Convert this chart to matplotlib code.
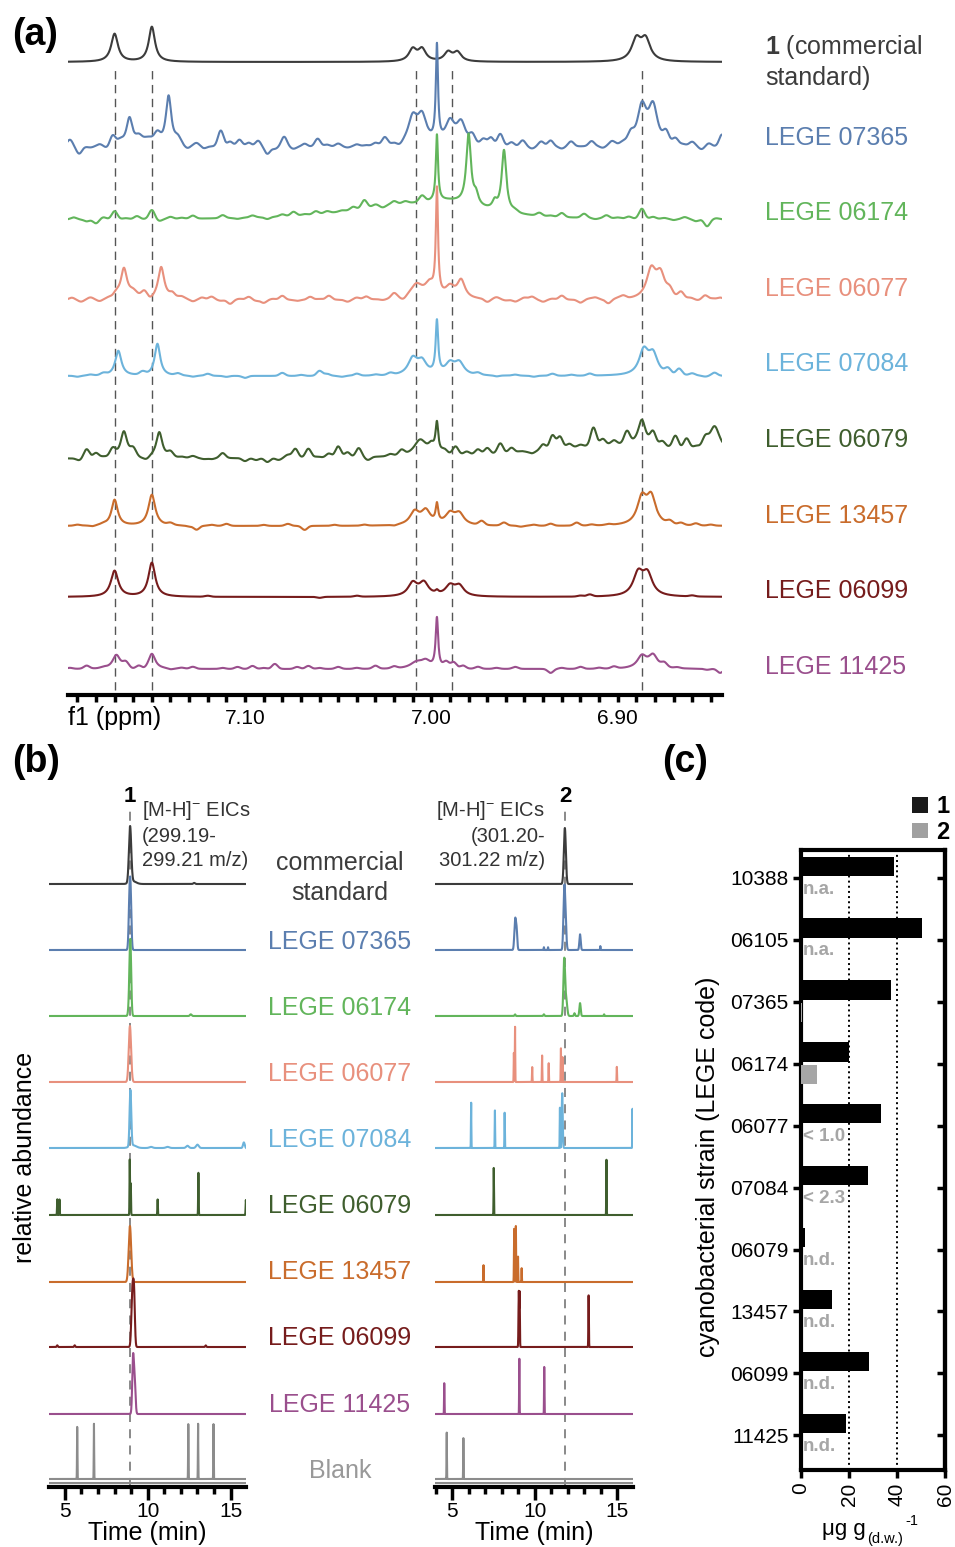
import matplotlib
matplotlib.use('Agg')
import matplotlib.pyplot as plt
from matplotlib.patches import Patch
from matplotlib.ticker import MultipleLocator
import numpy as np

plt.rcParams['font.family'] = ['Liberation Sans', 'DejaVu Sans']
plt.rcParams['mathtext.fontset'] = 'custom'
plt.rcParams['mathtext.rm'] = 'Liberation Sans'
plt.rcParams['mathtext.bf'] = 'Liberation Sans:bold'

W, H = 955, 1547

# ---------------- (a) 1H NMR, peaks as (ppm, height px, hwhm) and wiggles as (ppm, height px)
PEAKS_STD = [(7.170, 28, 0.0022), (7.150, 35, 0.0020), (7.010, 12, 0.0025), (7.005, 12, 0.0025),
             (6.991, 9, 0.0025), (6.986, 9, 0.0025), (6.890, 21, 0.003), (6.885, 21, 0.003)]
WIG_STD = []

PEAKS_07365 = [(7.162, 28, 0.002), (7.152, 8, 0.005), (7.141, 50, 0.0018), (7.010, 26, 0.003),
               (7.005, 27, 0.003), (6.997, 95, 0.0007), (6.990, 22, 0.003), (6.984, 22, 0.003),
               (6.887, 38, 0.003), (6.881, 38, 0.003)]
WIG_07365 = [(7.194, 7), (7.189, -7), (7.183, -1), (7.178, 2), (7.174, -2), (7.171, 10), (7.167, 4),
             (7.157, 5), (7.147, 8), (7.136, 6), (7.131, -3), (7.126, 3), (7.122, -2), (7.113, 16),
             (7.108, 5), (7.103, 7), (7.098, 4), (7.093, 6), (7.088, -7), (7.084, -2), (7.079, 10),
             (7.074, -2), (7.068, 3), (7.061, 8), (7.056, 2), (7.050, 3), (7.045, -1), (7.040, 2),
             (7.035, 1), (7.030, 3), (7.025, 8), (7.020, 1), (7.017, -3), (6.978, 8), (6.972, 6),
             (6.968, 8), (6.963, 12), (6.957, 4), (6.951, 6), (6.946, -2), (6.941, 5), (6.936, 6),
             (6.930, -2), (6.925, 5), (6.919, 0), (6.914, 5), (6.908, -2), (6.903, 4), (6.897, 2),
             (6.893, 8), (6.874, 10), (6.869, 6), (6.865, 1), (6.860, 4), (6.855, -3), (6.851, 3),
             (6.847, 0), (6.844, 12)]

PEAKS_06174 = [(7.020, 12, 0.035), (6.990, 12, 0.02), (6.997, 66, 0.0007), (6.980, 70, 0.0015),
               (6.976, 10, 0.0015), (6.966, 8, 0.0015), (6.961, 62, 0.0015)]
WIG_06174 = [(7.192, 2), (7.185, -2), (7.180, -4), (7.176, 2), (7.170, 8), (7.164, 1), (7.158, 3),
             (7.150, 9), (7.146, -2), (7.140, 2), (7.134, 1), (7.128, 3), (7.120, 0), (7.112, 3),
             (7.104, -1), (7.096, 2), (7.088, -2), (7.080, 2), (7.074, 4), (7.068, 1), (7.062, 3),
             (7.056, 2), (7.048, 1), (7.042, 3), (7.036, 8), (7.030, 2), (7.026, -2), (7.020, 3),
             (7.014, 2), (7.005, 6), (6.955, 2), (6.948, 0), (6.942, 3), (6.936, 1), (6.930, 4),
             (6.924, 0), (6.918, 4), (6.912, -1), (6.906, 3), (6.900, 1), (6.894, 2), (6.887, 10),
             (6.881, 2), (6.875, 1), (6.870, -1), (6.864, 2), (6.858, -2), (6.852, -7), (6.847, 1)]

PEAKS_06077 = [(7.165, 30, 0.002), (7.160, 7, 0.003), (7.145, 32, 0.002), (7.139, 5, 0.002),
               (7.008, 14, 0.004), (7.001, 13, 0.003), (6.997, 105, 0.0007), (6.990, 11, 0.003),
               (6.984, 18, 0.0025), (6.882, 28, 0.003), (6.877, 24, 0.003)]
WIG_06077 = [(7.193, 2), (7.188, -2), (7.183, 2), (7.178, -2), (7.173, 1), (7.169, 4), (7.154, 6),
             (7.151, -2), (7.134, 2), (7.128, -2), (7.123, 2), (7.118, 3), (7.113, -1), (7.108, -4),
             (7.103, 1), (7.098, 3), (7.094, -1), (7.090, -3), (7.085, 1), (7.080, 4), (7.076, 0),
             (7.072, -1), (7.065, 3), (7.060, 1), (7.055, 4), (7.050, 0), (7.045, -2), (7.040, 2),
             (7.035, 3), (7.030, 0), (7.026, -1), (7.020, 5), (7.015, -3), (6.970, -3), (6.965, 2),
             (6.960, -1), (6.955, -2), (6.950, 2), (6.946, 3), (6.940, -2), (6.935, 1), (6.930, 4),
             (6.925, 0), (6.920, -3), (6.915, 1), (6.912, 2), (6.905, -4), (6.900, 1), (6.897, 3),
             (6.872, 6), (6.866, 6), (6.861, 1), (6.857, -1), (6.853, 4), (6.849, 1), (6.845, 2)]

PEAKS_07084 = [(7.168, 25, 0.002), (7.147, 32, 0.0018), (7.010, 16, 0.003), (7.005, 13, 0.003),
               (6.997, 52, 0.0008), (6.990, 11, 0.003), (6.985, 12, 0.003), (6.886, 24, 0.003),
               (6.881, 20, 0.003)]
WIG_07084 = [(7.190, -1), (7.183, 1), (7.176, 2), (7.155, 3), (7.136, 2), (7.128, -1), (7.120, 2),
             (7.110, -1), (7.100, -2), (7.090, 0), (7.080, 3), (7.070, 1), (7.060, 5), (7.056, 2),
             (7.048, -1), (7.040, 2), (7.030, 1), (7.022, 2), (6.975, 2), (6.965, -1), (6.955, 1),
             (6.945, -1), (6.935, 2), (6.925, 1), (6.915, 2), (6.905, 0), (6.873, 5), (6.867, 6),
             (6.860, 2), (6.853, -1), (6.848, 3)]

PEAKS_06079 = [(6.900, 14, 0.05), (7.165, 27, 0.0022), (7.146, 26, 0.002), (7.006, 16, 0.004),
               (7.000, 8, 0.002), (6.997, 30, 0.0009), (6.887, 26, 0.0025), (6.848, 26, 0.0035)]
WIG_06079 = [(7.194, 0), (7.189, -2), (7.185, 9), (7.180, 5), (7.176, 1), (7.171, 8), (7.160, 7),
             (7.156, -1), (7.153, -3), (7.140, 5), (7.134, 1), (7.128, 2), (7.122, -1), (7.118, -1),
             (7.112, 5), (7.106, 0), (7.100, -3), (7.094, -2), (7.088, -4), (7.082, -2), (7.077, 3),
             (7.073, 9), (7.066, 9), (7.061, 1), (7.055, 4), (7.050, 11), (7.045, 5), (7.039, 9),
             (7.034, -3), (7.028, 0), (7.022, 2), (7.016, 5), (6.993, 4), (6.987, 8), (6.981, 3),
             (6.975, 5), (6.970, 6), (6.963, 10), (6.957, 5), (6.952, 1), (6.946, -2), (6.940, 6),
             (6.935, 14), (6.931, 12), (6.926, 4), (6.920, 2), (6.913, 18), (6.908, 6), (6.902, 4),
             (6.895, 12), (6.881, 12), (6.876, 5), (6.869, 12), (6.863, 10), (6.858, 2), (6.853, 8)]

PEAKS_13457 = [(7.170, 26, 0.002), (7.150, 31, 0.0022), (7.009, 13, 0.003), (7.003, 14, 0.003),
               (6.997, 18, 0.0008), (6.990, 11, 0.003), (6.985, 11, 0.003), (6.887, 26, 0.003),
               (6.882, 27, 0.003)]
WIG_13457 = [(7.190, 1), (7.182, -1), (7.176, 1), (7.140, 2), (7.130, -1), (7.126, -4), (7.118, 1),
             (7.110, 2), (7.100, 0), (7.090, 1), (7.082, 0), (7.077, 2), (7.068, -4), (7.060, 0),
             (7.052, 1), (7.044, 0), (7.036, 1), (7.028, 0), (7.020, -1), (6.973, 4), (6.961, 3),
             (6.952, -1), (6.945, 1), (6.936, 2), (6.929, 0), (6.922, 3), (6.914, 1), (6.905, 1),
             (6.872, 3), (6.866, 2), (6.858, 2), (6.850, 1), (6.846, 0)]

PEAKS_06099 = [(7.170, 26, 0.0024), (7.150, 34, 0.0022), (7.010, 13, 0.003), (7.004, 13, 0.003),
               (6.997, 3, 0.001), (6.990, 10, 0.003), (6.985, 10, 0.003), (6.889, 22, 0.0032),
               (6.884, 21, 0.0032)]
WIG_06099 = [(7.120, 1), (7.060, -1), (7.040, 1), (6.920, 1), (6.915, 2), (6.860, 1)]

PEAKS_11425 = [(7.169, 14, 0.0025), (7.150, 15, 0.0022), (7.008, 6, 0.004), (7.003, 7, 0.003),
               (6.997, 50, 0.0008), (6.887, 12, 0.003), (6.881, 13, 0.003)]
WIG_11425 = [(7.194, 1), (7.185, 3), (7.176, 1), (7.164, 5), (7.160, -1), (7.157, 2), (7.154, -2),
             (7.140, -1), (7.134, 1), (7.128, 2), (7.120, 0), (7.112, 1), (7.104, 2), (7.096, 3),
             (7.090, 1), (7.084, 5), (7.079, 0), (7.072, 2), (7.066, 3), (7.060, 1), (7.050, 2),
             (7.040, 1), (7.030, 3), (7.020, 2), (6.992, 6), (6.988, 6), (6.983, 3), (6.975, 2),
             (6.965, 1), (6.955, 2), (6.945, 0), (6.936, -4), (6.930, 1), (6.920, 2), (6.910, 1),
             (6.902, 2), (6.875, 4), (6.868, 1), (6.860, 0), (6.852, -1), (6.845, -4)]

REF_SHIFTS = [7.170, 7.150, 7.008, 6.989, 6.887]

NMR_NAMES = ['LEGE 07365', 'LEGE 06174', 'LEGE 06077', 'LEGE 07084',
             'LEGE 06079', 'LEGE 13457', 'LEGE 06099', 'LEGE 11425']

COLORS = ['#5b7eaf', '#62b55b', '#e8907d', '#6cb3db', '#3f5e2e', '#c96c2c', '#761c1c', '#9a4f8d']
STD_COLOR = '#3c3c3c'
BLANK_COLOR = '#8c8c8c'

# ---------------- (b) EICs, peaks as (time min, relative height, sigma min)
EIC1_STD = [(8.94, 1.0, 0.07), (9.10, 0.05, 0.20), (12.80, 0.02, 0.05)]
EIC1_07365 = [(8.90, 0.75, 0.05), (8.97, 0.92, 0.05)]
EIC1_06174 = [(8.96, 1.0, 0.05), (8.92, 0.45, 0.06), (12.60, 0.03, 0.05)]
EIC1_06077 = [(8.93, 1.0, 0.07)]
EIC1_07084 = [(8.96, 1.0, 0.05), (9.10, 0.05, 0.20), (12.40, 0.04, 0.08), (13.00, 0.06, 0.08),
              (15.80, 0.10, 0.05), (10.20, 0.02, 0.10), (11.20, 0.02, 0.10)]
EIC1_06079 = [(4.55, 0.28, 0.015), (4.68, 0.28, 0.015), (8.92, 1.0, 0.015), (8.98, 0.57, 0.015),
              (10.60, 0.28, 0.015), (13.06, 0.76, 0.015), (15.92, 0.27, 0.015)]
EIC1_13457 = [(8.93, 1.0, 0.075)]
EIC1_06099 = [(9.08, 1.0, 0.06), (9.18, 0.85, 0.05), (4.55, 0.03, 0.03), (5.60, 0.03, 0.03),
              (13.50, 0.03, 0.03)]
EIC1_11425 = [(9.12, 1.0, 0.05), (9.22, 0.55, 0.05)]
EIC1_BLANK = [(5.75, 0.93, 0.012), (6.76, 1.0, 0.012), (12.45, 0.98, 0.012), (13.04, 1.0, 0.012),
              (13.97, 0.98, 0.012)]

EIC2_STD = [(11.82, 1.0, 0.06)]
EIC2_07365 = [(8.81, 0.55, 0.05), (8.90, 0.30, 0.04), (10.55, 0.05, 0.015), (10.80, 0.05, 0.015),
              (11.78, 1.0, 0.05), (11.86, 0.50, 0.05), (12.74, 0.28, 0.04), (13.97, 0.07, 0.015)]
EIC2_06174 = [(11.78, 1.0, 0.05), (11.90, 0.30, 0.06), (12.74, 0.23, 0.04), (8.80, 0.03, 0.03),
              (10.55, 0.03, 0.03), (12.40, 0.05, 0.03), (14.20, 0.03, 0.02)]
EIC2_06077 = [(8.73, 0.52, 0.012), (8.80, 1.0, 0.012), (9.84, 0.27, 0.012), (10.44, 0.48, 0.012),
              (10.84, 0.34, 0.012), (11.58, 0.61, 0.012), (11.68, 0.45, 0.012), (14.97, 0.27, 0.012)]
EIC2_07084 = [(6.14, 0.82, 0.012), (7.58, 0.68, 0.012), (8.17, 0.63, 0.012), (11.52, 0.73, 0.012),
              (11.66, 0.98, 0.03), (15.92, 0.71, 0.012)]
EIC2_06079 = [(7.51, 0.84, 0.012), (14.34, 1.0, 0.012)]
EIC2_13457 = [(6.89, 0.30, 0.012), (8.75, 0.95, 0.015), (8.85, 1.0, 0.015), (8.98, 0.46, 0.012),
              (9.20, 0.25, 0.012)]
EIC2_06099 = [(9.03, 1.0, 0.02), (9.08, 0.95, 0.015), (13.26, 0.93, 0.015)]
EIC2_11425 = [(4.51, 0.55, 0.012), (9.06, 1.0, 0.012), (10.57, 0.84, 0.012)]
EIC2_BLANK = [(4.66, 0.84, 0.012), (5.67, 0.73, 0.012)]

RT_1 = 8.94
RT_2 = 11.82

# ---------------- (c) quantification
STRAINS = ['10388', '06105', '07365', '06174', '06077', '07084', '06079', '13457', '06099', '11425']
AMOUNT_1 = [38.8, 50.3, 37.5, 19.8, 33.4, 27.8, 1.8, 13.0, 28.4, 18.8]
AMOUNT_2 = [0, 0, 0.4, 6.6, 0, 0, 0, 0, 0, 0]
NOTES_2 = ['n.a.', 'n.a.', '', '', '< 1.0', '< 2.3', 'n.d.', 'n.d.', 'n.d.', 'n.d.']


def px_axes(fig, left, top, right, bottom):
    return fig.add_axes([left / W, 1 - bottom / H, (right - left) / W, (bottom - top) / H])


def fy(y):
    return 1 - y / H


def lorentz(x, peaks):
    y = np.zeros_like(x)
    for p, h, w in peaks:
        y += h / (1 + ((x - p) / w) ** 2)
    return y


def gauss(x, peaks, sigma=None):
    y = np.zeros_like(x)
    for pk in peaks:
        p, h = pk[0], pk[1]
        s = sigma if sigma is not None else pk[2]
        y += h * np.exp(-0.5 * ((x - p) / s) ** 2)
    return y


fig = plt.figure(figsize=(W / 100, H / 100), dpi=100)

# ================= panel (a)
ax = px_axes(fig, 68, 20, 722, 695)
ax.set_xlim(7.195, 6.844)
ax.set_ylim(0, 675)
ppm = np.linspace(7.195, 6.844, 4000)

nmr_traces = [(PEAKS_STD, WIG_STD, STD_COLOR, 633),
              (PEAKS_07365, WIG_07365, COLORS[0], 548),
              (PEAKS_06174, WIG_06174, COLORS[1], 475),
              (PEAKS_06077, WIG_06077, COLORS[2], 395),
              (PEAKS_07084, WIG_07084, COLORS[3], 319),
              (PEAKS_06079, WIG_06079, COLORS[4], 236),
              (PEAKS_13457, WIG_13457, COLORS[5], 169),
              (PEAKS_06099, WIG_06099, COLORS[6], 98),
              (PEAKS_11425, WIG_11425, COLORS[7], 26)]

ax.vlines(REF_SHIFTS, 5, 630, colors='#555555', linestyles=(0, (6, 4)), lw=1.0, zorder=1)
for peaks, wig, color, base in nmr_traces:
    y = base + lorentz(ppm, peaks) + gauss(ppm, wig, sigma=0.0015)
    ax.plot(ppm, y, color=color, lw=1.5, zorder=2)

for side in ['left', 'right', 'top']:
    ax.spines[side].set_visible(False)
ax.spines['bottom'].set_linewidth(3)
ax.set_yticks([])
ax.set_xticks([7.10, 7.00, 6.90], ['7.10', '7.00', '6.90'])
ax.xaxis.set_minor_locator(MultipleLocator(0.01))
ax.tick_params(axis='x', which='both', direction='out', length=5, width=2.5, labelsize=15, pad=5)
fig.text(68 / W, fy(718), 'f1 (ppm)', fontsize=18, ha='left', va='center')

fig.text(765 / W, fy(47), r'$\mathbf{1}$ (commercial', fontsize=18, color=STD_COLOR, va='center')
fig.text(765 / W, fy(78), 'standard)', fontsize=18, color=STD_COLOR, va='center')
label_y = [138, 213, 289, 364, 440, 516, 591, 667]
for name, color, y in zip(NMR_NAMES, COLORS, label_y):
    fig.text(765 / W, fy(y), name, fontsize=18, color=color, va='center')

# ================= panel (b)
eic_sets = [
    (EIC1_STD, EIC2_STD, STD_COLOR, 603),
    (EIC1_07365, EIC2_07365, COLORS[0], 537),
    (EIC1_06174, EIC2_06174, COLORS[1], 471),
    (EIC1_06077, EIC2_06077, COLORS[2], 405),
    (EIC1_07084, EIC2_07084, COLORS[3], 339),
    (EIC1_06079, EIC2_06079, COLORS[4], 272),
    (EIC1_13457, EIC2_13457, COLORS[5], 205),
    (EIC1_06099, EIC2_06099, COLORS[6], 140),
    (EIC1_11425, EIC2_11425, COLORS[7], 73),
    (EIC1_BLANK, EIC2_BLANK, BLANK_COLOR, 8),
]
PEAK_PX = 56

ax_b1 = px_axes(fig, 49, 790, 246, 1487)
ax_b2 = px_axes(fig, 435, 790, 633, 1487)
for col, (axb, lim, rt) in enumerate([(ax_b1, (4.05, 15.93), RT_1), (ax_b2, (3.95, 15.95), RT_2)]):
    axb.set_xlim(*lim)
    axb.set_ylim(0, 697)
    t = np.arange(lim[0], lim[1], 0.004)
    axb.vlines([rt], 0, 680, colors='#808080', linestyles=(0, (5, 4)), lw=1.3, zorder=1)
    for s in eic_sets:
        peaks, color, base = s[col], s[2], s[3]
        axb.plot(t, base + PEAK_PX * gauss(t, peaks), color=color, lw=1.5, zorder=2)
    axb.axhline(4, color=BLANK_COLOR, lw=1.5, zorder=2)
    for side in ['left', 'right', 'top']:
        axb.spines[side].set_visible(False)
    axb.spines['bottom'].set_linewidth(3)
    axb.set_yticks([])
    axb.xaxis.set_major_locator(MultipleLocator(5))
    axb.xaxis.set_minor_locator(MultipleLocator(1))
    axb.tick_params(axis='x', which='major', length=9, width=2.5, labelsize=15, pad=2)
    axb.tick_params(axis='x', which='minor', length=5, width=2.5)
    axb.set_xlabel('Time (min)', fontsize=18, labelpad=0)

fig.text(130 / W, fy(797), '1', fontsize=16, fontweight='bold', ha='center', va='center')
fig.text(565 / W, fy(797), '2', fontsize=16, fontweight='bold', ha='center', va='center')
for y, line in zip([811, 836, 861], [r'[M-H]$^{\mathregular{-}}$ EICs', '(299.19-', '299.21 m/z)']):
    fig.text(142 / W, fy(y), line, fontsize=14.5, color='#333333', ha='left', va='center')
for y, line in zip([811, 836, 861], [r'[M-H]$^{\mathregular{-}}$ EICs', '(301.20-', '301.22 m/z)']):
    fig.text(545 / W, fy(y), line, fontsize=14.5, color='#333333', ha='right', va='center')

fig.text(340 / W, fy(863), 'commercial', fontsize=18, color=STD_COLOR, ha='center', va='center')
fig.text(340 / W, fy(893), 'standard', fontsize=18, color=STD_COLOR, ha='center', va='center')
mid_y = [942, 1008, 1074, 1140, 1206, 1272, 1338, 1405]
for name, color, y in zip(NMR_NAMES, COLORS, mid_y):
    fig.text(340 / W, fy(y), name, fontsize=18, color=color, ha='center', va='center')
fig.text(340 / W, fy(1471), 'Blank', fontsize=18, color='#999999', ha='center', va='center')
fig.text(25 / W, fy(1157), 'relative abundance', fontsize=18, rotation=90, ha='center', va='center')

# ================= panel (c)
axc = px_axes(fig, 801, 850, 945, 1470)
pos = np.arange(len(STRAINS))
axc.barh(pos - 0.19, AMOUNT_1, height=0.31, color='black', zorder=3)
axc.barh(pos + 0.17, AMOUNT_2, height=0.31, color='#a6a6a6', zorder=3)
for i, note in enumerate(NOTES_2):
    axc.text(0.8, i + 0.18, note, color='#a6a6a6', fontsize=13.5, fontweight='bold',
             ha='left', va='center', zorder=4)
axc.set_xlim(0, 60)
axc.set_ylim(9.56, -0.45)
axc.set_xticks([0, 20, 40, 60])
axc.set_yticks(pos, STRAINS)
axc.grid(axis='x', ls=':', color='black', lw=1.4, zorder=0)
for side in axc.spines.values():
    side.set_linewidth(3)
axc.tick_params(axis='x', length=6, width=2.5, labelsize=15, labelrotation=90, pad=3)
axc.tick_params(axis='y', length=6, width=2.5, labelsize=15, pad=3)
sec = axc.secondary_yaxis('right')
sec.set_yticks(pos, [''] * len(pos))
sec.tick_params(direction='in', length=6, width=2.5)
sec.spines['right'].set_linewidth(3)

axc.legend(handles=[Patch(facecolor='#1a1a1a'), Patch(facecolor='#a0a0a0')], labels=['1', '2'],
           loc='lower right', bbox_to_anchor=(1.03, 1.01), frameon=False, handlelength=0.65,
           handleheight=0.65, handletextpad=0.35, labelspacing=0.1, borderpad=0, borderaxespad=0,
           prop={'weight': 'bold', 'size': 17})

fig.text(708 / W, fy(1167), 'cyanobacterial strain (LEGE code)', fontsize=18, rotation=90,
         ha='center', va='center')
# x label of (c): "μg g" with subscript "(d.w.)" and superscript "-1"
fig.text(866 / W, fy(1530), 'μg g', fontsize=16, ha='right', va='center')
fig.text(867 / W, fy(1539), '(d.w.)', fontsize=10.5, ha='left', va='center')
fig.text(905 / W, fy(1521), '-1', fontsize=10.5, ha='left', va='center')

# ================= panel letters
fig.text(12 / W, fy(35), '(a)', fontsize=27, fontweight='bold', va='center')
fig.text(12 / W, fy(762), '(b)', fontsize=27, fontweight='bold', va='center')
fig.text(662 / W, fy(762), '(c)', fontsize=27, fontweight='bold', va='center')

fig.savefig('out.png', dpi=100)
